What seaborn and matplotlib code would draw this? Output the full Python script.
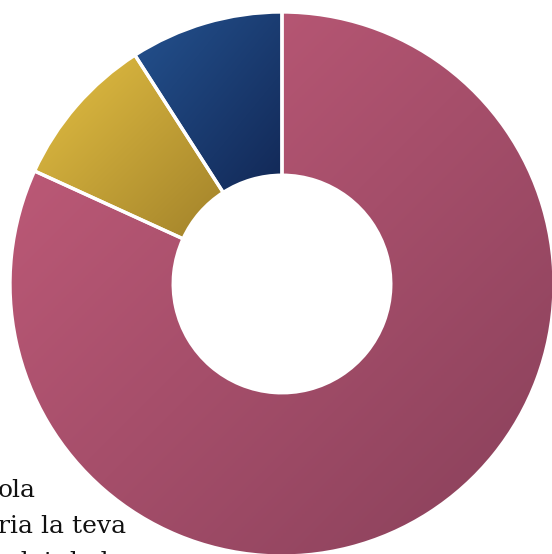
import numpy as np
import matplotlib
matplotlib.use("Agg")
import matplotlib.pyplot as plt
import seaborn as sns

# data (shares of the donut)
categories = ["Sí", "No", "NS/NC"]
values = [9, 1, 1]
light_colors = ["#c45d7b", "#e4c043", "#24528f"]
dark_colors = ["#88405a", "#a2822a", "#122856"]
text_lines = ["ola", "ria la teva", "edat de la"]

sns.set_theme(style="white")
plt.rcParams["font.family"] = ["DejaVu Serif", "Liberation Serif"]

W, H = 552, 554
fig = plt.figure(figsize=(W / 100, H / 100), dpi=100)
ax = fig.add_axes([0, 0, 1, 1])

# donut: center at (282, 284) px, outer radius 272 px
cx, cy, R = 282, 284, 272
wedges, _ = ax.pie(values, startangle=90, counterclock=False, radius=1,
                   colors=light_colors,
                   wedgeprops=dict(width=0.6, edgecolor="white", linewidth=2.4))

# diagonal gradient, light top-left -> dark bottom-right, clipped to each wedge
g = np.linspace(0, 1, 200)
grad = (g[None, :] + g[:, None]) / 2
for w, c0, c1 in zip(wedges, light_colors, dark_colors):
    cmap = matplotlib.colors.LinearSegmentedColormap.from_list("g", [c0, c1])
    bb = w.get_path().get_extents(w.get_patch_transform())
    im = ax.imshow(grad, cmap=cmap, extent=[bb.x0, bb.x1, bb.y0, bb.y1],
                   origin="upper", aspect="auto", zorder=1, interpolation="bilinear")
    im.set_clip_path(w)
    w.set_facecolor("none")
    w.set_zorder(2)

ax.set_xlim(-cx / R, (W - cx) / R)
ax.set_ylim(-(H - cy) / R, cy / R)
ax.set_aspect("auto")
ax.axis("off")

for i, line in enumerate(text_lines):
    fig.text(-2 / W, 1 - (497 + 36 * i) / H, line, fontsize=18,
             color="#111111", va="baseline", ha="left")

fig.savefig("out.png", dpi=100)
